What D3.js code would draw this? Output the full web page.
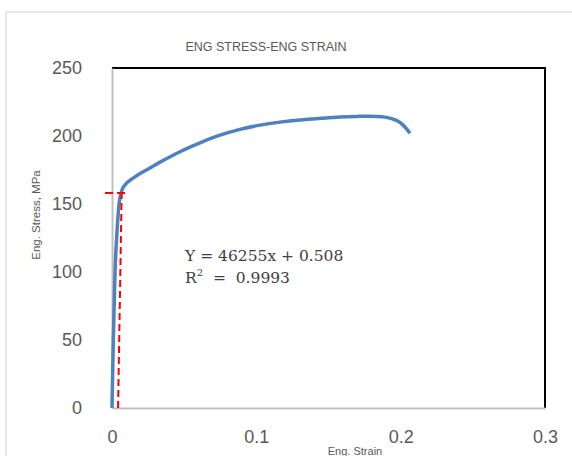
<!DOCTYPE html>
<html>
<head>
<meta charset="utf-8">
<script src="https://cdn.jsdelivr.net/npm/d3@7"></script>
<style>
  html, body { margin: 0; padding: 0; background: #fff; }
  svg { display: block; }
</style>
</head>
<body>
<svg id="chart" width="572" height="456"></svg>
<script>
// ---- data ----
const strain = [0, 0.0009, 0.0021, 0.0035, 0.0049, 0.0058, 0.007, 0.009, 0.0146, 0.0263, 0.0333, 0.040, 0.0471, 0.054, 0.061, 0.0748, 0.0887, 0.1026, 0.1164, 0.1303, 0.145, 0.158, 0.170, 0.179, 0.187, 0.193, 0.198, 0.2017, 0.2065];
const stress = [0, 50, 100, 130, 150, 156, 160.5, 164, 169, 176.5, 180.8, 184.6, 188.4, 191.8, 195, 200.6, 204.9, 208, 210.2, 211.8, 213, 213.9, 214.4, 214.6, 214.2, 213, 211, 208, 202];
const offsetStrain = [0.0042, 0.0067];
const offsetStress = [0, 158];
const yieldMarkStrain = [-0.0048, 0.0104];
const yieldMarkStress = [158, 158];
const xTicks = [0, 0.1, 0.2, 0.3];
const yTicks = [0, 50, 100, 150, 200, 250];
const titleText = "ENG STRESS-ENG STRAIN";
const xTitle = "Eng. Strain";
const yTitle = "Eng. Stress, MPa";
const eqLine1 = "Y = 46255x + 0.508";

// ---- layout ----
const svg = d3.select("#chart");
const L = 112, R = 545, T = 68, B = 408;
const x = d3.scaleLinear().domain([0, 0.3]).range([L, R]);
const y = d3.scaleLinear().domain([0, 250]).range([B, T]);

// outer chart border
svg.append("rect").attr("x", 6).attr("y", 12).attr("width", 600).attr("height", 500)
  .attr("fill", "none").attr("stroke", "#d9d9d9").attr("stroke-width", 1.2);

// title
svg.append("text").attr("x", 266).attr("y", 51).attr("text-anchor", "middle")
  .attr("font-family", "Liberation Sans, Arial, sans-serif").attr("font-size", 12.5)
  .attr("fill", "#595959").text(titleText);

// plot frame: top and right black
svg.append("line").attr("x1", L).attr("x2", R + 1).attr("y1", T).attr("y2", T)
  .attr("stroke", "#000").attr("stroke-width", 2);
svg.append("line").attr("x1", R).attr("x2", R).attr("y1", T).attr("y2", B)
  .attr("stroke", "#000").attr("stroke-width", 2);

// axes
const xAxis = d3.axisBottom(x).tickValues(xTicks).tickSize(0).tickPadding(22)
  .tickFormat(d => d === 0 ? "0" : d3.format(".1f")(d));
const gx = svg.append("g").attr("transform", `translate(0,${B})`).call(xAxis);
gx.select(".domain").attr("stroke", "#bfbfbf").attr("stroke-width", 2);
gx.selectAll("text").attr("font-family", "Liberation Sans, Arial, sans-serif")
  .attr("font-size", 18).attr("fill", "#595959");

const yAxis = d3.axisLeft(y).tickValues(yTicks).tickSize(0).tickPadding(30);
const gy = svg.append("g").attr("transform", `translate(${L},0)`).call(yAxis);
gy.select(".domain").attr("stroke", "#bfbfbf").attr("stroke-width", 2);
gy.selectAll("text").attr("font-family", "Liberation Sans, Arial, sans-serif")
  .attr("font-size", 18).attr("fill", "#595959");

// axis titles
svg.append("text").attr("x", 355).attr("y", 455).attr("text-anchor", "middle")
  .attr("font-family", "Liberation Sans, Arial, sans-serif").attr("font-size", 11)
  .attr("fill", "#595959").text(xTitle);
svg.append("text").attr("transform", "translate(40,215) rotate(-90)").attr("text-anchor", "middle")
  .attr("font-family", "Liberation Sans, Arial, sans-serif").attr("font-size", 11.5)
  .attr("fill", "#595959").text(yTitle);

// curve
const line = d3.line().x(d => x(d[0])).y(d => y(d[1])).curve(d3.curveMonotoneX);
svg.append("path").datum(strain.map((s, i) => [s, stress[i]]))
  .attr("d", line).attr("fill", "none").attr("stroke", "#4f81bd")
  .attr("stroke-width", 3.5).attr("stroke-linejoin", "round");

// offset line (red dashed)
const lin = d3.line().x(d => x(d[0])).y(d => y(d[1]));
svg.append("path").datum(offsetStrain.map((s, i) => [s, offsetStress[i]]))
  .attr("d", lin).attr("fill", "none").attr("stroke", "#ff0000")
  .attr("stroke-width", 2).attr("stroke-dasharray", "7,4");
svg.append("path").datum(yieldMarkStrain.map((s, i) => [s, yieldMarkStress[i]]))
  .attr("d", lin).attr("fill", "none").attr("stroke", "#ff0000")
  .attr("stroke-width", 2).attr("stroke-dasharray", "8,4");

// equation
const eq = svg.append("g").attr("font-family", "DejaVu Serif, Liberation Serif, serif")
  .attr("font-size", 15.5).attr("fill", "#404040");
eq.append("text").attr("x", 185).attr("y", 261).text(eqLine1);
const t2 = eq.append("text").attr("x", 185).attr("y", 283).attr("xml:space", "preserve");
t2.append("tspan").text("R");
t2.append("tspan").attr("font-size", 10).attr("dy", -7).text("2");
t2.append("tspan").attr("dy", 7).text("  =  0.9993");
</script>
</body>
</html>
